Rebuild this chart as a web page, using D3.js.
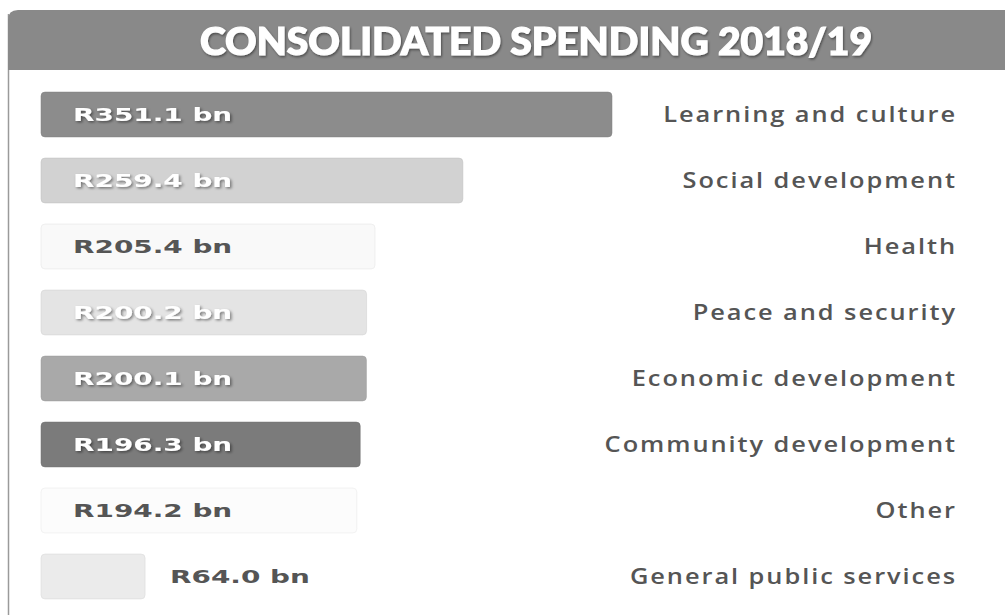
<!DOCTYPE html>
<html>
<head>
<meta charset="utf-8">
<script src="https://cdn.jsdelivr.net/npm/d3@7/dist/d3.min.js"></script>
<style>
  html, body { margin: 0; padding: 0; background: #ffffff; }
  svg { display: block; }
</style>
</head>
<body>
<svg id="chart" width="1005" height="615"></svg>
<script>
// Consolidated spending by function, 2018/19 (R billion)
const categories = [
  "Learning and culture",
  "Social development",
  "Health",
  "Peace and security",
  "Economic development",
  "Community development",
  "Other",
  "General public services"
];
const values = [351.1, 259.4, 205.4, 200.2, 200.1, 196.3, 194.2, 64.0];
const valueLabels = ["R351.1 bn", "R259.4 bn", "R205.4 bn", "R200.2 bn", "R200.1 bn", "R196.3 bn", "R194.2 bn", "R64.0 bn"];
const barFills = ["#8c8c8c", "#d2d2d2", "#f9f9f9", "#e4e4e4", "#a9a9a9", "#7b7b7b", "#fcfcfc", "#ebebeb"];
const labelFills = ["#ffffff", "#ffffff", "#555555", "#ffffff", "#ffffff", "#ffffff", "#555555", "#555555"];
const title = "CONSOLIDATED SPENDING 2018/19";

const W = 1005, H = 615;
const svg = d3.select("#chart");

const defs = svg.append("defs");
const shadow = defs.append("filter").attr("id", "txtShadow")
  .attr("x", "-10%").attr("y", "-30%").attr("width", "120%").attr("height", "160%");
shadow.append("feDropShadow").attr("dx", 1).attr("dy", 1.5).attr("stdDeviation", 1)
  .attr("flood-color", "#000").attr("flood-opacity", 0.45);

// Left frame rule
svg.append("line")
  .attr("x1", 8.5).attr("x2", 8.5).attr("y1", 14).attr("y2", H)
  .attr("stroke", "#9a9a9a").attr("stroke-width", 1.5);

// Header band with rounded top-left corner
svg.append("path")
  .attr("d", `M8,70 L8,20 Q8,10 18,10 L${W},10 L${W},70 Z`)
  .attr("fill", "#898989");

svg.append("text")
  .attr("x", 536).attr("y", 40)
  .attr("text-anchor", "middle")
  .attr("dominant-baseline", "central")
  .attr("font-family", "Lato, 'DejaVu Sans', sans-serif")
  .attr("font-weight", 900)
  .attr("font-size", 37)
  .attr("fill", "#ffffff")
  .attr("stroke", "#ffffff")
  .attr("stroke-width", 1.2)
  .attr("textLength", 672)
  .attr("lengthAdjust", "spacingAndGlyphs")
  .attr("filter", "url(#txtShadow)")
  .text(title);

// Scales
const x = d3.scaleLinear().domain([0, 351.1]).range([41, 612]);
const y = d3.scaleBand().domain(categories).range([81.5, 609.5])
  .paddingInner(0.32).paddingOuter(0.16);

const rows = svg.append("g").selectAll("g")
  .data(categories.map((c, i) => ({ c, v: values[i], lab: valueLabels[i], fill: barFills[i], lf: labelFills[i] })))
  .join("g");

rows.append("rect")
  .attr("x", x(0))
  .attr("y", d => y(d.c))
  .attr("width", d => x(d.v) - x(0))
  .attr("height", y.bandwidth())
  .attr("rx", 4)
  .attr("fill", d => d.fill)
  .attr("stroke", d => d3.color(d.fill).darker(0.25))
  .attr("stroke-opacity", 0.5)
  .attr("stroke-width", 1);

// Value labels: inside the bar when it is wide enough, otherwise just past its end.
// The face is set wide, so glyphs are stretched horizontally.
rows.append("text")
  .attr("transform", d => {
    const tx = x(d.v) - x(0) > 200 ? 73 : x(d.v) + 25;
    return `translate(${tx},${y(d.c) + y.bandwidth() / 2}) scale(1.55,1)`;
  })
  .attr("dy", "0.36em")
  .attr("font-family", "'DejaVu Sans', sans-serif")
  .attr("font-weight", "bold")
  .attr("font-size", 18)
  .attr("fill", d => d.lf)
  .attr("filter", d => d.lf === "#ffffff" ? "url(#txtShadow)" : null)
  .text(d => d.lab);

// Category names, right-aligned
rows.append("text")
  .attr("transform", d => `translate(957,${y(d.c) + y.bandwidth() / 2}) scale(1.21,1)`)
  .attr("dy", "0.36em")
  .attr("text-anchor", "end")
  .attr("font-family", "'Open Sans', sans-serif")
  .attr("font-weight", 600)
  .attr("font-size", 21)
  .attr("letter-spacing", 1.6)
  .attr("fill", "#555555")
  .text(d => d.c);
</script>
</body>
</html>
